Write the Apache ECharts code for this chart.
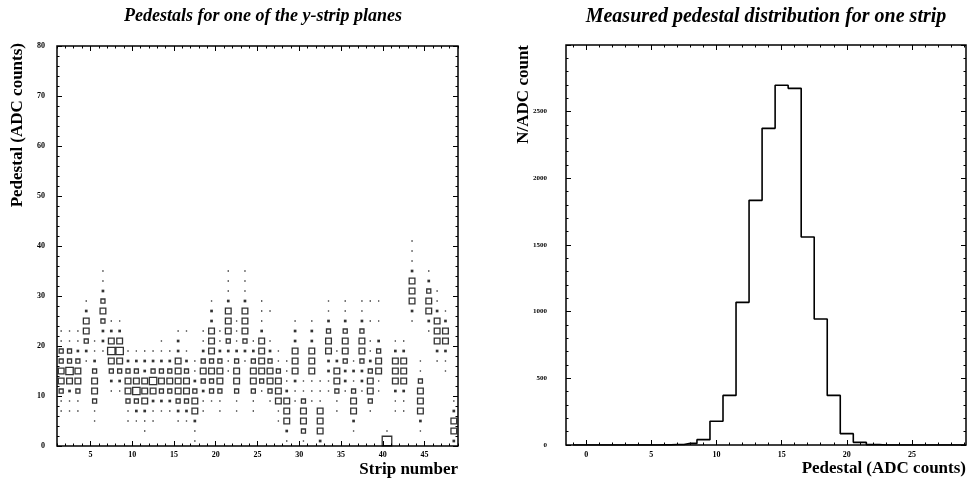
<!DOCTYPE html>
<html><head><meta charset="utf-8">
<script src="https://cdn.jsdelivr.net/npm/echarts@6/dist/echarts.min.js"></script>
<style>html,body{margin:0;padding:0;background:#fff}#c{width:973px;height:480px}</style>
</head><body><div id="c"></div>
<script>
// ---- Left panel: pedestals per strip (2D box histogram, bins of 2 ADC counts) ----
const stripNumbers = [1,2,3,4,5,6,7,8,9,10,11,12,13,14,15,16,17,18,19,20,21,22,23,24,25,26,27,28,29,30,31,32,33,34,35,36,37,38,39,40,41,42,43,44,45,46,47,48];
const pedestalBinWidth = 2;
// centre of the lowest occupied pedestal bin for each strip
const stripLowestBin = [7,7,7,17,5,19,11,11,5,5,3,5,7,7,5,5,1,7,9,7,15,7,17,7,11,9,5,1,9,1,9,1,11,7,11,3,11,7,11,1,7,7,25,3,23,17,15,1];
// entries per bin, going upward from the lowest bin
const stripCounts = [
  [1,1,9,18,18,9,9,1,1],
  [1,1,4,18,30,9,9,1,1],
  [1,1,9,18,18,9,4,1,1],
  [1,4,9,18,18,4,1],
  [1,1,9,18,18,9,4,1,1],
  [1,4,4,9,18,9,4,1,1],
  [1,4,9,18,30,18,4,1],
  [1,4,9,18,30,18,4,1],
  [1,1,9,18,18,9,4,1],
  [1,4,9,30,18,9,4,1],
  [1,1,4,18,18,18,4,4,1],
  [1,1,4,18,30,9,4,1],
  [1,4,9,18,9,4,1,1],
  [1,4,9,18,9,4,1],
  [1,4,9,18,18,18,18,4,4,1],
  [1,4,9,18,18,9,4,1,0,1],
  [1,1,4,18,18,9,4,1,1],
  [1,1,4,9,18,9,4,1,1],
  [1,9,9,18,9,18,18,18,4,4,1],
  [1,1,9,18,18,9,4,1,1],
  [1,1,4,9,18,18,18,4,1,1,1],
  [1,1,9,18,18,9,4,1,1,1],
  [1,4,9,18,18,18,4,1,1,1],
  [1,1,9,18,18,9,4,1],
  [1,9,18,18,18,18,4,1,1,1],
  [1,9,18,18,9,4,1,0,0,1],
  [1,1,18,18,18,9,1,1],
  [1,4,18,18,18,4,1,1,1],
  [1,1,4,18,18,18,4,4,1],
  [1,9,18,18,9,1,1],
  [1,1,1,18,18,18,4,4,1],
  [4,18,18,18,1,1,1],
  [1,1,4,4,18,18,9,4,1,1],
  [1,1,9,18,18,4,1],
  [1,4,4,9,18,18,9,4,1,1],
  [1,4,18,18,9,1,4,1],
  [1,4,4,9,18,18,9,4,1,1],
  [1,9,18,18,9,4,1,1,0,1,0,1],
  [1,1,18,18,9,4,0,1,0,1],
  [50,1],
  [1,1,4,18,18,18,4,1],
  [1,1,4,18,18,18,4,1],
  [1,4,18,18,18,4,1,1,1],
  [1,4,18,18,18,9,1,1],
  [1,4,18,18,9,4,1],
  [1,4,18,18,18,4,1,1],
  [1,1,4,18,18,4,1],
  [4,18,18,4,1]
];
const leftXMajorTicks = [5,10,15,20,25,30,35,40,45];
const leftXMinorTicks = [1,2,3,4,5,6,7,8,9,10,11,12,13,14,15,16,17,18,19,20,21,22,23,24,25,26,27,28,29,30,31,32,33,34,35,36,37,38,39,40,41,42,43,44,45,46,47,48,49];

// ---- Right panel: pedestal distribution for one strip ----
const pedestalValues = [-1,0,1,2,3,4,5,6,7,8,9,10,11,12,13,14,15,16,17,18,19,20,21,22,23,24,25,26,27,28,29];
const pedestalCounts = [0,0,0,0,0,0,0,1,4,12,40,178,372,1070,1835,2375,2698,2675,1560,945,372,85,20,3,0,0,0,0,0,0,0];
const rightXMajorTicks = [0,5,10,15,20,25];
const rightXMinorTicks = [-1,0,1,2,3,4,5,6,7,8,9,10,11,12,13,14,15,16,17,18,19,20,21,22,23,24,25,26,27,28,29];

// ---- build ----
const boxData = [];
stripNumbers.forEach((s, i) => {
  stripCounts[i].forEach((c, k) => {
    if (c > 0) {
      const y = stripLowestBin[i] + k * pedestalBinWidth;
      boxData.push({
        value: [s + 0.5, y, c],
        itemStyle: c < 9 ? {color: '#000', borderWidth: 0}
                         : {color: 'rgba(0,0,0,0)', borderColor: '#000', borderWidth: 1.3}
      });
    }
  });
});
const histData = pedestalValues.map((v, i) => [v, pedestalCounts[i]]);

const serif = '"Liberation Serif", "DejaVu Serif", serif';
const tickLbl = {fontFamily: serif, fontWeight: 'bold', fontSize: 8, color: '#000', formatter: v => String(v)};
const nameStyle = {fontFamily: serif, fontWeight: 'bold', fontSize: 17, color: '#000'};
const noLine = {show: false, onZero: false};

function xAxes(grid, min, max, major, minor, labelMargin, name) {
  const common = {type: 'value', gridIndex: grid, min: min, max: max, splitLine: {show: false},
                  axisLine: noLine};
  return [
    Object.assign({}, common, {position: 'bottom',
      axisTick: {inside: true, length: 5, customValues: major, lineStyle: {color: '#000', width: 1}},
      axisLabel: Object.assign({customValues: major, margin: labelMargin}, tickLbl),
      name: name, nameLocation: 'end', nameGap: 0, nameMoveOverlap: false,
      nameTextStyle: Object.assign({align: 'right', verticalAlign: 'top', padding: [15, 0, 0, 0]}, nameStyle)}),
    Object.assign({}, common, {position: 'bottom',
      axisTick: {inside: true, length: 2.5, customValues: minor, lineStyle: {color: '#000', width: 1}},
      axisLabel: {show: false}}),
    Object.assign({}, common, {position: 'top',
      axisTick: {inside: true, length: 5, customValues: major, lineStyle: {color: '#000', width: 1}},
      axisLabel: {show: false}}),
    Object.assign({}, common, {position: 'top',
      axisTick: {inside: true, length: 2.5, customValues: minor, lineStyle: {color: '#000', width: 1}},
      axisLabel: {show: false}})
  ];
}
function yAxes(grid, max, interval, labelMargin, labelSize, name, gap, pad) {
  const common = {type: 'value', gridIndex: grid, min: 0, max: max, interval: interval,
                  splitLine: {show: false}, axisLine: noLine,
                  axisTick: {inside: true, length: 5, lineStyle: {color: '#000', width: 1}},
                  minorTick: {show: true, splitNumber: 5, length: 2.5, lineStyle: {color: '#000', width: 1}},
                  minorSplitLine: {show: false}};
  return [
    Object.assign({}, common, {position: 'left',
      axisLabel: Object.assign({}, tickLbl, {fontSize: labelSize, margin: labelMargin, showMaxLabel: max === 80}),
      name: name, nameLocation: 'end', nameRotate: 90, nameGap: gap, nameMoveOverlap: false,
      nameTextStyle: Object.assign({align: 'right', verticalAlign: 'bottom', padding: [0, 0, pad, 0]}, nameStyle)}),
    Object.assign({}, common, {position: 'right', axisLabel: {show: false}})
  ];
}

const option = {
  animation: false,
  backgroundColor: '#fff',
  title: [
    {text: 'Pedestals for one of the y-strip planes', left: 258, top: 2, textAlign: 'center',
     textStyle: {fontFamily: serif, fontStyle: 'italic', fontWeight: 'bold', fontSize: 18, color: '#000'}},
    {text: 'Measured pedestal distribution for one strip', left: 761, top: 2, textAlign: 'center',
     textStyle: {fontFamily: serif, fontStyle: 'italic', fontWeight: 'bold', fontSize: 20, color: '#000'}}
  ],
  grid: [
    {left: 57, top: 46, width: 401, height: 400, show: true, borderColor: '#000', borderWidth: 1.5, backgroundColor: 'transparent'},
    {left: 566, top: 45, width: 400, height: 400, show: true, borderColor: '#000', borderWidth: 1.5, backgroundColor: 'transparent'}
  ],
  xAxis: [].concat(
    xAxes(0, 1, 49, leftXMajorTicks, leftXMinorTicks, 5, 'Strip number'),
    xAxes(1, -1.55, 29.15, rightXMajorTicks, rightXMinorTicks, 6, 'Pedestal (ADC counts)')
  ),
  yAxis: [].concat(
    yAxes(0, 80, 10, 12, 8, 'Pedestal (ADC counts)', 3, 31),
    yAxes(1, 3000, 500, 19, 7, 'N/ADC count', 0, 34)
  ),
  series: [
    {type: 'scatter', name: 'Pedestals', xAxisIndex: 0, yAxisIndex: 0, symbol: 'rect',
     symbolSize: v => 1.35 * Math.sqrt(v[2]), data: boxData, silent: true},
    {type: 'line', name: 'Pedestal distribution', xAxisIndex: 4, yAxisIndex: 2, step: 'middle',
     showSymbol: false, symbol: 'none', data: histData, lineStyle: {color: '#000', width: 1.6}, silent: true}
  ]
};
const chart = echarts.init(document.getElementById('c'), null, {renderer: 'canvas'});
chart.setOption(option);
</script>
</body></html>
